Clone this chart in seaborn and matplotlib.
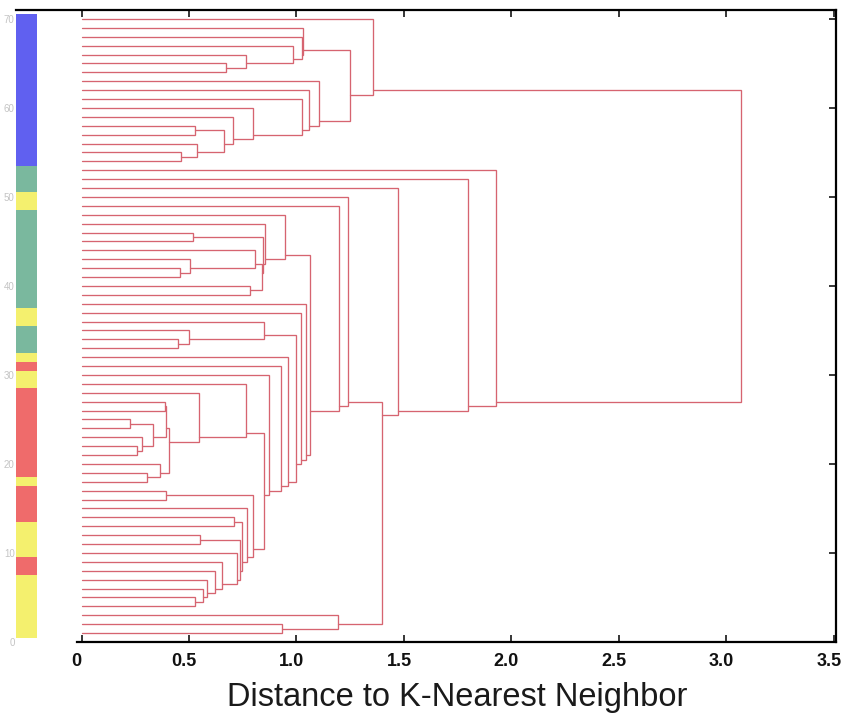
import matplotlib
matplotlib.use("Agg")
import matplotlib.pyplot as plt
import matplotlib.transforms as mtransforms
import seaborn as sns
import pandas as pd

# ---------------- data ----------------
n_leaves = 70  # leaf 0 is the top row, leaf 69 the bottom row
# merges in scipy-linkage style: ids >= n_leaves refer to earlier merges (n_leaves + row)
link_a = [15, 14, 12, 72, 11, 10, 9, 8, 7, 5, 4, 3, 2, 1, 83, 0,
          24, 28, 27, 26, 30, 89, 86, 23, 22,
          36, 35, 34,
          43, 45, 48, 47, 99, 98, 51, 50, 103, 42, 41,
          53, 65, 64, 63, 62, 61, 60, 58, 116, 56, 118, 55, 109, 108,
          40, 39, 38, 97, 33, 32, 94, 21, 20, 68, 67, 131, 19, 18, 17, 85]
link_b = [16, 70, 13, 71, 73, 74, 75, 76, 77, 6, 79, 80, 81, 82, 78, 84,
          25, 29, 87, 88, 31, 90, 91, 92, 93,
          37, 95, 96,
          44, 46, 49, 100, 101, 102, 52, 104, 105, 106, 107,
          54, 66, 110, 111, 112, 113, 114, 59, 115, 57, 117, 119, 120, 121,
          122, 123, 124, 125, 126, 127, 128, 129, 130, 69, 132, 133, 134, 135, 136, 137]
link_h = [0.461, 0.536, 0.528, 0.663, 0.705, 0.796, 1.024, 1.058, 1.105, 0.672, 0.764, 0.984, 1.024, 1.032, 1.249, 1.356,
          0.520, 0.458, 0.505, 0.807, 0.784, 0.840, 0.846, 0.853, 0.947,
          0.449, 0.500, 0.849,
          0.390, 0.226, 0.257, 0.280, 0.333, 0.395, 0.303, 0.365, 0.405, 0.548, 0.764,
          0.393, 0.528, 0.565, 0.582, 0.621, 0.652, 0.722, 0.551, 0.737, 0.709, 0.745, 0.768, 0.796, 0.849,
          0.872, 0.930, 0.960, 1.000, 1.020, 1.043, 1.063, 1.200, 1.240, 0.931, 1.193, 1.400, 1.470, 1.800, 1.930, 3.070]

# class colour strip, groups from top to bottom
group_class = ["blue", "green", "yellow", "green", "yellow", "green", "yellow", "red",
               "yellow", "red", "yellow", "red", "yellow", "red", "yellow"]
group_size = [17, 3, 2, 11, 2, 3, 1, 1, 2, 10, 1, 4, 4, 2, 7]
class_colors = {"blue": "#6060f0", "green": "#7ab89e", "yellow": "#f4f06e", "red": "#ef6b6b"}

xtick_values = [0, 0.5, 1.0, 1.5, 2.0, 2.5, 3.0, 3.5]
xtick_labels = ["0", "0.5", "1.0", "1.5", "2.0", "2.5", "3.0", "3.5"]
ytick_values = [0, 10, 20, 30, 40, 50, 60, 70]
x_label = "Distance to K-Nearest Neighbor"

# ---------------- style ----------------
sns.set_theme(style="white")
plt.rcParams["font.family"] = ["Liberation Sans", "DejaVu Sans"]

fig = plt.figure(figsize=(8.44, 7.15), dpi=100)
x_min, x_max = -0.305, 3.51
ax = fig.add_axes([16 / 844, 1 - 642 / 715, 820 / 844, 632 / 715])

line_color = "#d66470"

# leaf positions and node positions (mean of leaf positions)
pos = {i: float(n_leaves - i) for i in range(n_leaves)}
cnt = {i: 1 for i in range(n_leaves)}
hgt = {i: 0.0 for i in range(n_leaves)}
for k, (a, b, h) in enumerate(zip(link_a, link_b, link_h)):
    nid = n_leaves + k
    cnt[nid] = cnt[a] + cnt[b]
    pos[nid] = (pos[a] * cnt[a] + pos[b] * cnt[b]) / cnt[nid]
    hgt[nid] = h
    ax.plot([hgt[a], h, h, hgt[b]], [pos[a], pos[a], pos[b], pos[b]],
            color=line_color, lw=0.95, solid_joinstyle="miter", zorder=2)

# colour strip
leaf_class = []
for c, s in zip(group_class, group_size):
    leaf_class += [c] * s
strip = pd.DataFrame({"y": [pos[i] for i in range(n_leaves)], "cls": leaf_class})
ax.barh(strip["y"], width=0.098, left=x_min, height=1.0,
        color=[class_colors[c] for c in strip["cls"]], edgecolor="none", zorder=3)

ax.set_xlim(x_min, x_max)
ax.set_ylim(0, 71)

ax.set_xticks(xtick_values)
ax.set_xticklabels(xtick_labels, fontsize=13, fontweight="bold", color="#111111")
ax.set_yticks(ytick_values)
ax.set_yticklabels([str(v) for v in ytick_values], fontsize=7, color="#c4c4c4")

ax.tick_params(axis="x", direction="in", top=True, bottom=True, length=5, width=1.3,
               pad=8)
ax.tick_params(axis="y", direction="in", left=False, right=True, length=5, width=1.3,
               pad=1, labelleft=True, labelcolor="#c4c4c4")

# the reference's tick labels sit a few pixels left of their ticks
shift = mtransforms.ScaledTranslation(-5 / 100, 0, fig.dpi_scale_trans)
for lab in ax.get_xticklabels():
    lab.set_transform(lab.get_transform() + shift)

for side in ["top", "right", "bottom"]:
    ax.spines[side].set_visible(True)
    ax.spines[side].set_color("black")
    ax.spines[side].set_linewidth(1.6)
ax.spines["left"].set_visible(False)
ax.spines["bottom"].set_bounds(-0.02, x_max)

ax.set_xlabel(x_label, fontsize=23.5, color="#1a1a1a")
ax.xaxis.set_label_coords((457 - 16) / 820, -0.064)
ax.xaxis.label.set_verticalalignment("top")
ax.grid(False)

fig.savefig("out.png", dpi=100)
